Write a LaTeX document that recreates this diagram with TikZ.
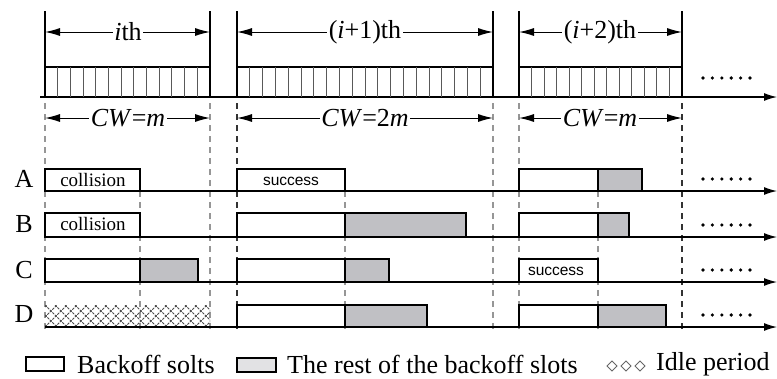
\documentclass[tikz,border=0pt]{standalone}
\usepackage{fontspec}
\setmainfont{Liberation Serif}
\newfontfamily\lsans{Liberation Sans}
\usetikzlibrary{arrows.meta}
\definecolor{restgray}{RGB}{192,192,196}
\definecolor{leggray}{RGB}{226,226,228}
\definecolor{dashgray}{RGB}{150,150,150}
\begin{document}
\begin{tikzpicture}[x=1pt,y=-1pt,
  axis/.style={line width=1.2pt,-{Latex[length=13pt,width=8pt]}},
  dimarrow/.style={line width=1pt,{Latex[length=15pt,width=8pt]}-{Latex[length=15pt,width=8pt]}},
  bound/.style={line width=1.2pt},
  slotline/.style={line width=1pt,black!65},
  dshg/.style={line width=1.1pt,dash pattern=on 6pt off 5pt,dashgray},
  dshk/.style={line width=1.1pt,dash pattern=on 6pt off 5pt,black!80},
  bkbox/.style={draw,line width=1.2pt,fill=white},
  restbox/.style={draw,line width=1.2pt,fill=restgray},
  lbl/.style={font=\fontsize{26}{28}\selectfont,fill=white,inner sep=1.5pt},
  rowlbl/.style={font=\fontsize{26}{28}\selectfont,inner sep=0pt},
  boxtxt/.style={font=\fontsize{19}{21}\selectfont,inner sep=0pt},
  succtxt/.style={font=\lsans\fontsize{15.5}{17}\selectfont,inner sep=0pt},
  legtxt/.style={font=\fontsize{26}{28}\selectfont,inner sep=0pt,anchor=west}
]
\useasboundingbox (0,0) rectangle (777,378);

% ---------- dashed guide lines ----------
\foreach \x in {45,210,493,519} \draw[dshg] (\x,103) -- (\x,330);
\foreach \x in {237,682} \draw[dshk] (\x,103) -- (\x,330);
\foreach \x in {140,345,598} \draw[dshg] (\x,191) -- (\x,330);

% ---------- top time axis ----------
\coordinate (ta0) at (40,97);
\coordinate (ta1) at (777,97);
\draw[axis] (ta0) -- (ta1);

% period boundaries (top)
\foreach \x in {45,210,237,493,519,682} \draw[bound] (\x,11) -- (\x,97);

% slot bars
\draw[bound] (45,67) -- (210,67);
\draw[bound] (237,67) -- (493,67);
\draw[bound] (519,67) -- (682,67);
\foreach \k in {1,...,12} \draw[slotline] ({45+\k*12.69},67) -- ({45+\k*12.69},97);
\foreach \k in {1,...,19} \draw[slotline] ({237+\k*12.8},67) -- ({237+\k*12.8},97);
\foreach \k in {1,...,12} \draw[slotline] ({519+\k*12.54},67) -- ({519+\k*12.54},97);

% period dimension arrows
\coordinate (p1a) at (45,32); \coordinate (p1b) at (210,32);
\coordinate (p2a) at (237,32); \coordinate (p2b) at (493,32);
\coordinate (p3a) at (519,32); \coordinate (p3b) at (682,32);
\draw[dimarrow] (p1a) -- (p1b);
\draw[dimarrow] (p2a) -- (p2b);
\draw[dimarrow] (p3a) -- (p3b);
\node[lbl] (l1) at (128,32) {\textit{i}th};
\node[lbl] (l2) at (365,32) {(\textit{i}+1)th};
\node[lbl] (l3) at (600,32) {(\textit{i}+2)th};

% CW dimension arrows
\coordinate (c1a) at (45,118); \coordinate (c1b) at (210,118);
\coordinate (c2a) at (237,118); \coordinate (c2b) at (493,118);
\coordinate (c3a) at (519,118); \coordinate (c3b) at (682,118);
\draw[dimarrow] (c1a) -- (c1b);
\draw[dimarrow] (c2a) -- (c2b);
\draw[dimarrow] (c3a) -- (c3b);
\node[lbl] (w1) at (128,118) {\textit{CW}=\textit{m}};
\node[lbl] (w2) at (365,118) {\textit{CW}=2\textit{m}};
\node[lbl] (w3) at (600,118) {\textit{CW}=\textit{m}};

% ---------- row boxes ----------
% row A (base 191, top 169)
\draw[bkbox] (45,191) rectangle (140,169);
\draw[bkbox] (237,191) rectangle (345,169);
\draw[bkbox] (519,191) rectangle (598,169);
\draw[restbox] (598,191) rectangle (642,169);
% row B (base 237, top 213)
\draw[bkbox] (45,237) rectangle (140,213);
\draw[bkbox] (237,237) rectangle (345,213);
\draw[restbox] (345,237) rectangle (466,213);
\draw[bkbox] (519,237) rectangle (598,213);
\draw[restbox] (598,237) rectangle (629,213);
% row C (base 282, top 259)
\draw[bkbox] (45,282) rectangle (140,259);
\draw[restbox] (140,282) rectangle (198,259);
\draw[bkbox] (237,282) rectangle (345,259);
\draw[restbox] (345,282) rectangle (389,259);
\draw[bkbox] (519,282) rectangle (598,259);
% row D (base 327, top 305)
\begin{scope}
  \clip (45,305) rectangle (210,327);
  \foreach \s in {-30,-20,...,200}
  {
    \draw[black!70,line width=0.8pt,dash pattern=on 2.5pt off 1pt] ({45+\s},327) -- ({45+\s+22},305);
    \draw[black!70,line width=0.8pt,dash pattern=on 2.5pt off 1pt] ({45+\s},305) -- ({45+\s+22},327);
  }
\end{scope}
\draw[bkbox] (237,327) rectangle (345,305);
\draw[restbox] (345,327) rectangle (427,305);
\draw[bkbox] (519,327) rectangle (598,305);
\draw[restbox] (598,327) rectangle (666,305);

% row axes
\coordinate (ra0) at (45,191); \coordinate (ra1) at (777,191);
\coordinate (rb0) at (45,237); \coordinate (rb1) at (777,237);
\coordinate (rc0) at (45,282); \coordinate (rc1) at (777,282);
\coordinate (rd0) at (45,327); \coordinate (rd1) at (777,327);
\draw[axis] (ra0) -- (ra1);
\draw[axis] (rb0) -- (rb1);
\draw[axis] (rc0) -- (rc1);
\draw[axis] (rd0) -- (rd1);

% row labels
\node[rowlbl] (nA) at (24,179) {A};
\node[rowlbl] (nB) at (24,224) {B};
\node[rowlbl] (nC) at (24,270) {C};
\node[rowlbl] (nD) at (24,314) {D};

% box texts
\node[boxtxt] (tA) at (93,180) {collision};
\node[boxtxt] (tB) at (93,224) {collision};
\node[succtxt] (sA) at (291,181) {success};
\node[succtxt] (sC) at (556,271) {success};

% ellipsis dots
\foreach \yy in {78,179,225,270,315}
  \foreach \j in {0,...,5} \fill[black] ({703+\j*9.4},\yy) circle (1.8pt);

% ---------- legend ----------
\draw[bkbox] (26,357) rectangle (64,371);
\node[legtxt] (lg1) at (77,364) {Backoff solts};
\draw[draw,line width=1.2pt,fill=leggray] (237,358) rectangle (276,372);
\node[legtxt] (lg2) at (287,364) {The rest of the backoff slots};
\foreach \dx in {612,626,640}
  \draw[black!60,line width=0.8pt] (\dx-5,366) -- (\dx,361) -- (\dx+5,366) -- (\dx,371) -- cycle;
\node[legtxt] (lg3) at (656,364) {Idle period};
\end{tikzpicture}
\end{document}
